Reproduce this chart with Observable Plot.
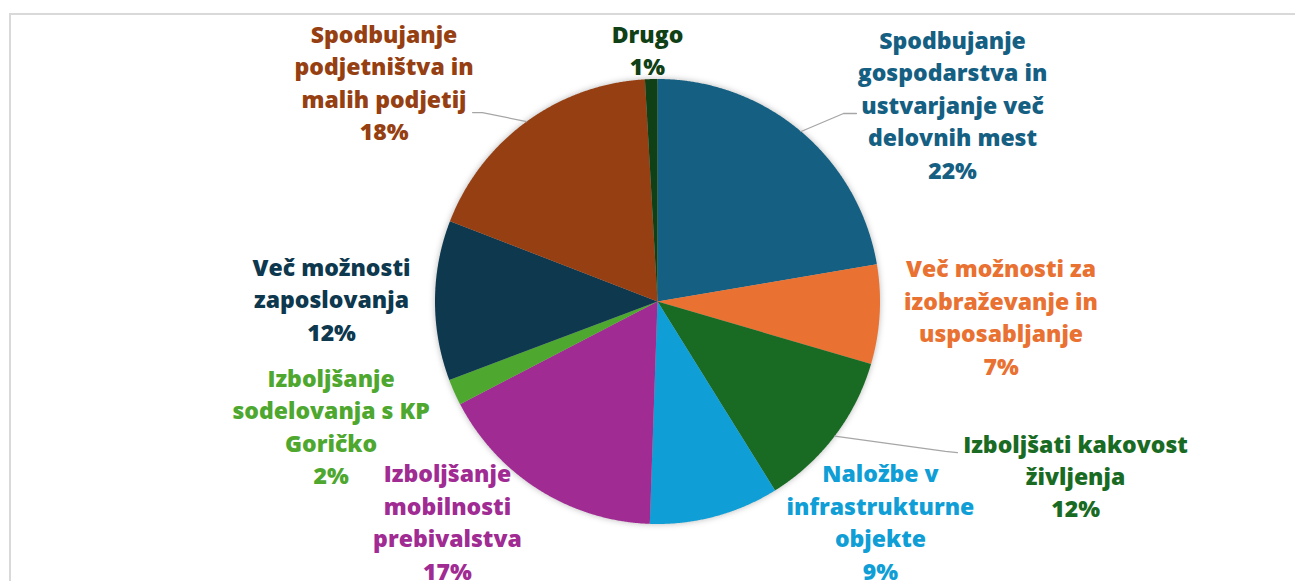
<!DOCTYPE html>
<html>
<head>
<meta charset="utf-8">
<script src="https://cdn.jsdelivr.net/npm/d3@7"></script>
<script src="https://cdn.jsdelivr.net/npm/@observablehq/plot@0.6"></script>
<style>
  html, body { margin: 0; padding: 0; background: #fff; overflow: hidden; }
  #wrap { position: relative; width: 1295px; height: 581px; overflow: hidden; }
  #border { position: absolute; left: 9px; top: 13px; width: 1400px; height: 800px; border: 2px solid #d9d9d9; box-sizing: border-box; }
  #chart { position: absolute; left: 0; top: 0; }
</style>
</head>
<body>
<div id="wrap"><div id="border"></div><div id="chart"></div></div>
<script>
// ---- data ----
const categories = [
  "Spodbujanje gospodarstva in ustvarjanje več delovnih mest",
  "Več možnosti za izobraževanje in usposabljanje",
  "Izboljšati kakovost življenja",
  "Naložbe v infrastrukturne objekte",
  "Izboljšanje mobilnosti prebivalstva",
  "Izboljšanje sodelovanja s KP Goričko",
  "Več možnosti zaposlovanja",
  "Spodbujanje podjetništva in malih podjetij",
  "Drugo"
];
const shares = [22.3, 7.2, 11.6, 9.4, 16.8, 1.9, 11.6, 18.2, 0.9];
const labelTexts = [
  "Spodbujanje\ngospodarstva in\nustvarjanje več\ndelovnih mest",
  "Več možnosti za\nizobraževanje in\nusposabljanje",
  "Izboljšati kakovost\nživljenja",
  "Naložbe v\ninfrastrukturne\nobjekte",
  "Izboljšanje\nmobilnosti\nprebivalstva",
  "Izboljšanje\nsodelovanja s KP\nGoričko",
  "Več možnosti\nzaposlovanja",
  "Spodbujanje\npodjetništva in\nmalih podjetij",
  "Drugo"
];
const colors = ["#156082", "#E97132", "#196B24", "#0F9ED5", "#A02B93", "#4EA72E", "#0D384E", "#963F12", "#0F4016"];

// ---- layout (in pie-radius units, relative to pie centre) ----
const labelPos = [
  [1.326, 0.881], [1.544, -0.072], [1.879, -0.787], [1.002, -0.993], [-0.944, -0.993],
  [-1.467, -0.564], [-1.465, 0.007], [-1.229, 0.982], [-0.045, 1.128]
];
// leader lines: [slice index, bend point, end point]
const leaders = [
  [0, [0.836, 0.845], [0.894, 0.845]],
  [2, [1.294, -0.674], [1.348, -0.679]],
  [7, [-0.787, 0.849], [-0.831, 0.849]]
];

const W = 1295, H = 581, CX = 657, CY = 301, R = 222.5;

// ---- build geometry ----
const total = d3.sum(shares);
const pieData = [];
const midAngle = [];
let acc = 0;
shares.forEach((v, i) => {
  const a0 = acc / total * 2 * Math.PI;
  acc += v;
  const a1 = acc / total * 2 * Math.PI;
  midAngle.push((a0 + a1) / 2);
  const n = Math.max(2, Math.ceil((a1 - a0) / 0.005));
  pieData.push({cat: categories[i], x: 0, y: 0});
  for (let k = 0; k <= n; k++) {
    const t = a0 + (a1 - a0) * k / n;
    pieData.push({cat: categories[i], x: Math.sin(t), y: Math.cos(t)});
  }
  pieData.push({cat: categories[i], x: 0, y: 0});
});

const labelData = categories.map((c, i) => ({
  cat: c,
  x: labelPos[i][0],
  y: labelPos[i][1],
  text: labelTexts[i] + "\n" + Math.round(shares[i]) + "%"
}));

const leaderData = [];
leaders.forEach(([i, b, e]) => {
  const t = midAngle[i];
  leaderData.push({cat: categories[i], x: Math.sin(t), y: Math.cos(t)});
  leaderData.push({cat: categories[i], x: b[0], y: b[1]});
  leaderData.push({cat: categories[i], x: e[0], y: e[1]});
});

const chart = Plot.plot({
  width: W,
  height: H,
  margin: 0,
  x: {domain: [-CX / R, (W - CX) / R], range: [0, W], axis: null},
  y: {domain: [-(H - CY) / R, CY / R], range: [H, 0], axis: null},
  color: {domain: categories, range: colors},
  style: {background: "transparent"},
  marks: [
    Plot.line(pieData, {x: "x", y: "y", z: "cat", fill: "cat", stroke: "none", curve: "linear"}),
    Plot.line(leaderData, {x: "x", y: "y", z: "cat", stroke: "#a6a6a6", strokeWidth: 1.3}),
    Plot.text(labelData, {
      x: "x", y: "y", text: "text", fill: "cat", dy: -2,
      fontSize: 23, fontWeight: 800, lineHeight: 1.413,
      fontFamily: "'Open Sans', sans-serif", textAnchor: "middle"
    })
  ]
});
const pieG = chart.querySelector('g[aria-label="line"]');
if (pieG) pieG.style.filter = "drop-shadow(0 0 3px rgba(0,0,0,0.28))";
document.getElementById("chart").appendChild(chart);
</script>
</body>
</html>
